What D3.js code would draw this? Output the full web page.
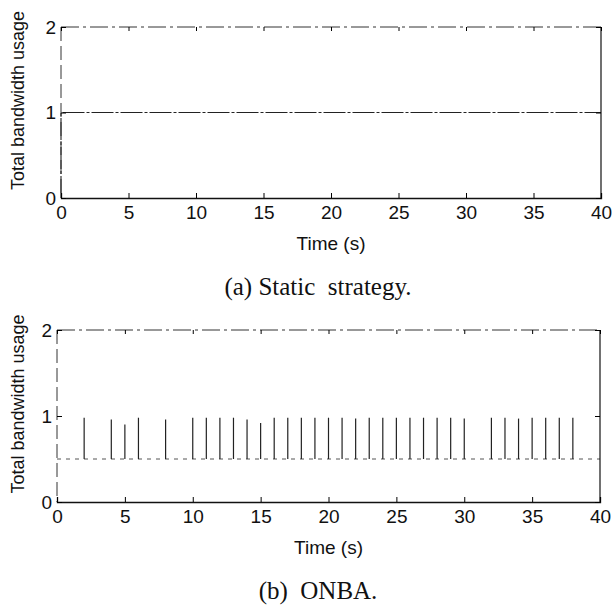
<!DOCTYPE html>
<html>
<head>
<meta charset="utf-8">
<script src="https://d3js.org/d3.v7.min.js"></script>
<style>
  body { margin: 0; background: #fff; }
  svg text { fill: #111; }
  .tick-label { font: 19px "Liberation Sans", Arial, sans-serif; }
  .axis-title { font: 18px "Liberation Sans", Arial, sans-serif; }
  .time-title { font: 19px "Liberation Sans", Arial, sans-serif; }
  .caption { font: 25px "Liberation Serif", "Times New Roman", serif; }
</style>
</head>
<body>
<div id="chart"></div>
<script>
// ---- data ----
const xTicks = [0, 5, 10, 15, 20, 25, 30, 35, 40];
const yTicks = [0, 1, 2];

// (a) static strategy: flat at 1 the whole run
const staticTimes = [0, 0, 40];
const staticValues = [0, 1, 1];

// (b) ONBA: sits at 0.5, with short bursts up near 1
const onbaBase = 0.5;
const spikeTimes = [2, 4, 5, 6, 8, 10, 11, 12, 13, 14, 15, 16, 17, 18, 19, 20,
  21, 22, 23, 24, 25, 26, 27, 28, 29, 30, 32, 33, 34, 35, 36, 37, 38];
const spikePeaks = [0.98, 0.96, 0.90, 0.98, 0.96, 0.98, 0.98, 0.98, 0.98, 0.96, 0.92, 0.98, 0.98, 0.98, 0.98, 0.98,
  0.98, 0.97, 0.98, 0.98, 0.98, 0.98, 0.98, 0.98, 0.98, 0.97, 0.98, 0.98, 0.97, 0.98, 0.98, 0.98, 0.98];

const W = 613, H = 609;
const svg = d3.select("#chart").append("svg")
  .attr("width", W).attr("height", H);

function panel(box, caption, drawData) {
  const x = d3.scaleLinear().domain([0, 40]).range([box.left, box.right]);
  const y = d3.scaleLinear().domain([0, 2]).range([box.bottom, box.top]);
  const g = svg.append("g");

  // data first so the frame sits on top
  drawData(g, x, y);

  // frame (the scan has broken top / left edges)
  g.append("line").attr("x1", box.left).attr("x2", box.right).attr("y1", box.top).attr("y2", box.top)
    .attr("stroke", "#333").attr("stroke-width", 1).attr("stroke-dasharray", "18,4,3,4");
  g.append("line").attr("x1", box.left).attr("x2", box.left).attr("y1", box.top).attr("y2", box.bottom)
    .attr("stroke", "#333").attr("stroke-width", 1).attr("stroke-dasharray", "14,5");
  g.append("line").attr("x1", box.right).attr("x2", box.right).attr("y1", box.top).attr("y2", box.bottom)
    .attr("stroke", "#111").attr("stroke-width", 1.2);

  // bottom axis with inward ticks, labels below
  const xa = g.append("g").attr("transform", `translate(0,${box.bottom})`)
    .call(d3.axisBottom(x).tickValues(xTicks).tickSize(-5).tickPadding(8).tickFormat(d3.format("d")));
  xa.select(".domain").attr("stroke", "#111").attr("stroke-width", 1.3);
  xa.selectAll("text").attr("class", "tick-label");

  // top edge ticks
  g.append("g").attr("transform", `translate(0,${box.top})`)
    .call(d3.axisTop(x).tickValues(xTicks).tickSize(-4).tickFormat(""))
    .select(".domain").remove();

  // left axis with inward ticks
  const ya = g.append("g").attr("transform", `translate(${box.left},0)`)
    .call(d3.axisLeft(y).tickValues(yTicks).tickSize(-5).tickPadding(5).tickFormat(d3.format("d")));
  ya.select(".domain").remove();
  ya.selectAll("text").attr("class", "tick-label");

  // right edge ticks
  g.append("g").attr("transform", `translate(${box.right},0)`)
    .call(d3.axisRight(y).tickValues(yTicks).tickSize(-5).tickFormat(""))
    .select(".domain").remove();

  svg.append("text").attr("class", "axis-title")
    .attr("transform", `translate(24,${(box.top + box.bottom) / 2 - 12}) rotate(-90)`)
    .attr("text-anchor", "middle").text("Total bandwidth usage");

  svg.append("text").attr("class", "time-title")
    .attr("x", (box.left + box.right) / 2).attr("y", box.bottom + 52)
    .attr("text-anchor", "middle").text("Time (s)");

  svg.append("text").attr("class", "caption")
    .attr("x", 318).attr("y", box.bottom + 97)
    .attr("text-anchor", "middle").attr("xml:space", "preserve").text(caption);
}

panel({ left: 61, right: 601, top: 27, bottom: 198 }, "(a) Static  strategy.", (g, x, y) => {
  const line = d3.line().x((d, i) => x(staticTimes[i])).y(d => y(d));
  g.append("path").datum(staticValues)
    .attr("d", line).attr("fill", "none")
    .attr("stroke", "#222").attr("stroke-width", 1.1)
    .attr("stroke-dasharray", "22,2,3,2");
});

panel({ left: 57, right: 600, top: 330, bottom: 502 }, "(b)  ONBA.", (g, x, y) => {
  g.append("line")
    .attr("x1", x(0)).attr("x2", x(40))
    .attr("y1", y(onbaBase)).attr("y2", y(onbaBase))
    .attr("stroke", "#555").attr("stroke-width", 1)
    .attr("stroke-dasharray", "4,5");
  g.selectAll("line.spike").data(spikeTimes).enter().append("line")
    .attr("class", "spike")
    .attr("x1", d => x(d)).attr("x2", d => x(d))
    .attr("y1", y(onbaBase)).attr("y2", (d, i) => y(spikePeaks[i]))
    .attr("stroke", "#222").attr("stroke-width", 1.2);
});
</script>
</body>
</html>
